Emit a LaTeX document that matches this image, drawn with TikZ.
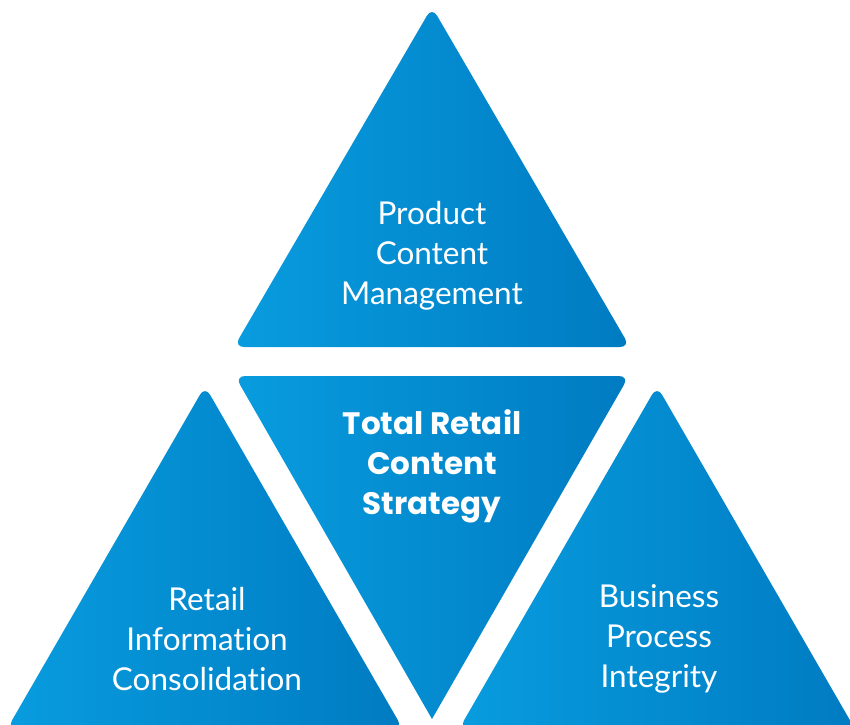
\documentclass[tikz,border=0pt]{standalone}
\usepackage{fontspec}
\setmainfont{Lato}[Ligatures={NoCommon,NoContextual}]
\newfontfamily\headfont{Poppins}
\definecolor{c1}{HTML}{089CDE}
\definecolor{c2}{HTML}{007BC2}

\begin{document}
\begin{tikzpicture}[
    x=1pt, y=-1pt,
    tri/.style={left color=c1, right color=c2, draw=none},
    lab/.style={font=\fontsize{31.5}{40}\selectfont, text=white, align=center},
    head/.style={font=\headfont\bfseries\fontsize{31}{40}\selectfont, text=white, align=center},
]
\useasboundingbox (0,0) rectangle (850,724);

% ---------------------------------------------------------------- triangles
\path[tri, rounded corners=10pt] (432,7) -- (630,347) -- (234,347) -- cycle;
\path[tri] (432,719) [rounded corners=10pt] -- (235,376) -- (629,376) [sharp corners] -- cycle;
\begin{scope}
    \clip (0,0) rectangle (850,724);
    \path[tri, rounded corners=10pt] (205,386) -- (403,729) -- (7,729) -- cycle;
    \path[tri, rounded corners=10pt] (657,386) -- (855,729) -- (459,729) -- cycle;
\end{scope}

% ---------------------------------------------------------------- labels
\node[lab] (pcm) at (432,256) {Product\\Content\\Management};
\node[head] (trcs) at (432,466) {Total Retail\\Content\\Strategy};
\node[lab] (ric) at (207,639) {Retail\\Information\\Consolidation};
\node[lab] (bpi) at (659,639) {Business\\Process\\Integrity};

\end{tikzpicture}
\end{document}
